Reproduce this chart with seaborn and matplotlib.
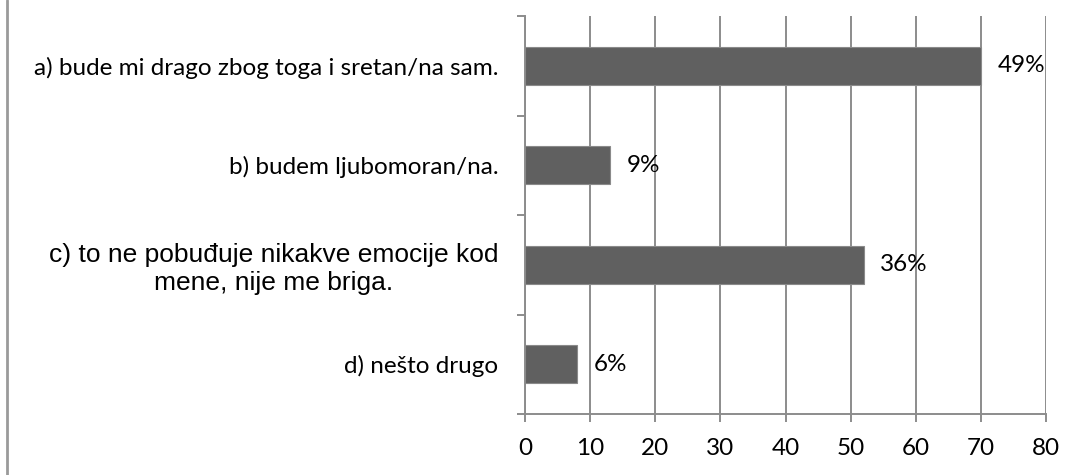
import matplotlib
matplotlib.use("Agg")
import matplotlib.pyplot as plt
from matplotlib.lines import Line2D
from matplotlib.ticker import FixedLocator
import seaborn as sns
import pandas as pd

categories = [
    "a) bude mi drago zbog toga i sretan/na sam.",
    "b) budem ljubomoran/na.",
    "c) to ne pobuđuje nikakve emocije kod\nmene, nije me briga.",
    "d) nešto drugo",
]
values = [70, 13, 52, 8]
pct_labels = ["49%", "9%", "36%", "6%"]
x_ticks = [0, 10, 20, 30, 40, 50, 60, 70, 80]

sns.set_style("white")
plt.rcParams["font.family"] = ["Lato", "DejaVu Sans"]

df = pd.DataFrame({"cat": categories, "val": values})

fig = plt.figure(figsize=(10.79, 4.75), dpi=100)
ax = fig.add_axes([525 / 1079, 1 - 414 / 475, 521 / 1079, 398 / 475])

sns.barplot(data=df, x="val", y="cat", order=categories, color="#606060",
            saturation=1, width=0.38, edgecolor="#8a8a8a", linewidth=0.8,
            ax=ax, zorder=3)

ax.set_xlim(0, 80)
ax.set_ylim(3.5, -0.5)
ax.set_xticks(x_ticks)
ax.set_xticklabels([str(t) for t in x_ticks], fontsize=17.5, color="#000000")
ax.set_xlabel("")
ax.set_ylabel("")

grid_c = "#8c8c8c"
ax.grid(axis="x", color=grid_c, linewidth=1.4, zorder=0)
ax.grid(axis="y", visible=False)
ax.set_axisbelow(True)

for s in ["top", "right"]:
    ax.spines[s].set_visible(False)
for s in ["left", "bottom"]:
    ax.spines[s].set_color(grid_c)
    ax.spines[s].set_linewidth(1.4)

ax.tick_params(axis="x", which="major", length=6, width=1.4, color=grid_c,
               pad=11, direction="out", bottom=True)
ax.yaxis.set_minor_locator(FixedLocator([-0.5, 0.5, 1.5, 2.5, 3.5]))
ax.tick_params(axis="y", which="minor", length=6, width=1.4, color=grid_c,
               direction="out", left=True)
ax.tick_params(axis="y", which="major", length=0, pad=19)

for lab in ax.get_yticklabels():
    txt = lab.get_text()
    if txt.startswith("c)"):
        lab.set_fontfamily(["Liberation Sans", "DejaVu Sans"])
        lab.set_fontsize(19)
        lab.set_multialignment("center")
    else:
        lab.set_fontsize(17.5)
    lab.set_color("#000000")

ax.bar_label(ax.containers[0], labels=pct_labels, padding=12, fontsize=17.5,
             color="#000000")

fig.add_artist(Line2D([6.5 / 1079, 6.5 / 1079], [0, 1], color="#9a9a9a",
                      linewidth=2, transform=fig.transFigure))

fig.savefig("out.png", dpi=100)
